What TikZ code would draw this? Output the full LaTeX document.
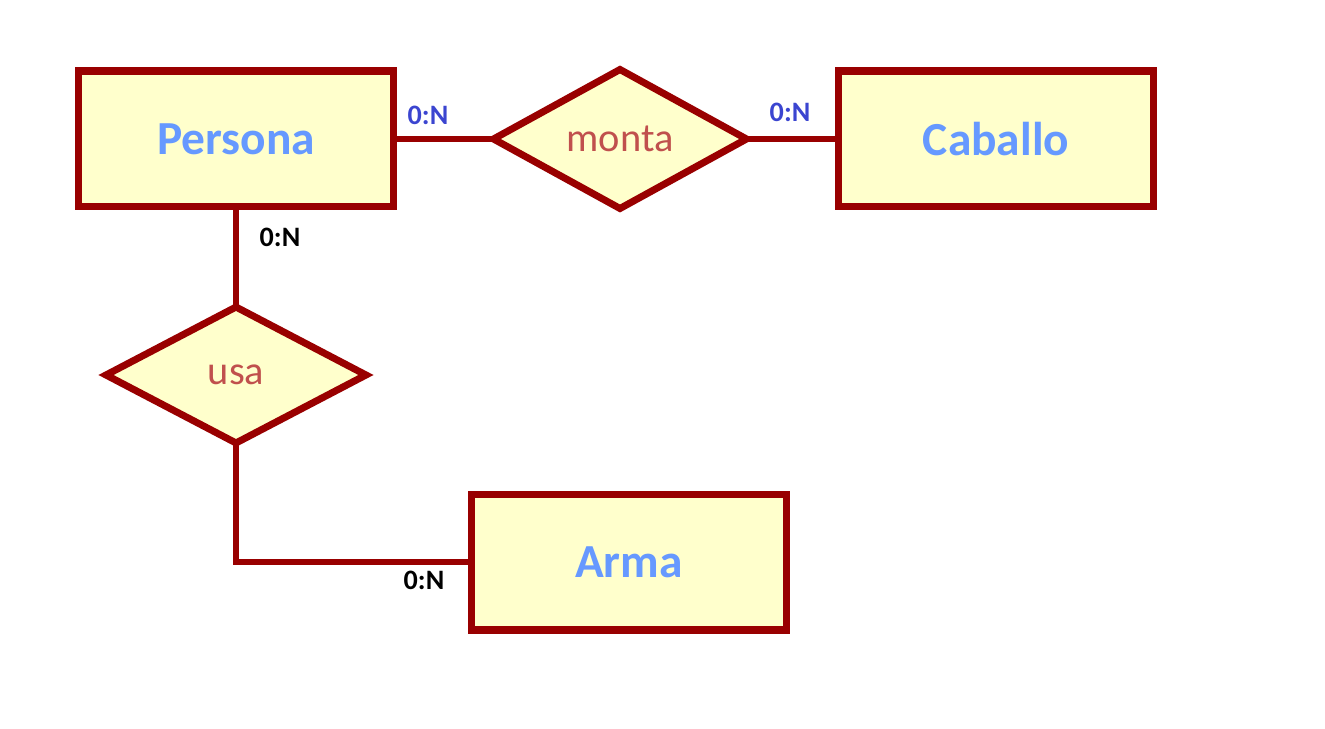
\documentclass[tikz,border=0pt]{standalone}
\usepackage{fontspec}
\setmainfont{Carlito}
\usepackage{xcolor}
\usetikzlibrary{shapes.geometric}

\definecolor{borde}{RGB}{153,0,0}
\definecolor{relleno}{RGB}{255,255,204}
\definecolor{entidad}{RGB}{102,153,255}
\definecolor{relacion}{RGB}{192,80,77}
\definecolor{card}{RGB}{59,69,208}

\begin{document}
\begin{tikzpicture}[x=0.02cm, y=-0.02cm,
    entity/.style={draw=borde, fill=relleno, line width=4pt, rectangle, outer sep=0pt,
        minimum width=6.3cm, minimum height=2.72cm,
        text=entidad, font=\fontsize{27}{30}\selectfont\bfseries},
    rel/.style={draw=borde, fill=relleno, line width=4pt, diamond, aspect=1.8,
        inner sep=0pt, outer sep=0pt, text=relacion, font=\fontsize{23}{26}\selectfont},
    link/.style={draw=borde, line width=3.8pt},
    cardA/.style={text=card, font=\fontsize{16}{18}\selectfont\bfseries},
    cardB/.style={text=black, font=\fontsize{16}{18}\selectfont\bfseries}]

    \useasboundingbox (0,0) rectangle (1325,729);

    % Entities
    \node[entity] (persona) at (236,139) {Persona};
    \node[entity] (caballo) at (996,139) {Caballo};
    \node[entity] (arma) at (629,562) {Arma};

    % Relationships
    \node[rel, minimum width=5.06cm, minimum height=2.78cm] (monta) at (620,139) {monta};
    \node[rel, minimum width=5.2cm, minimum height=2.72cm] (usa) at (236,375) {usa};

    % Links
    \draw[link] (persona.east) -- (monta.west);
    \draw[link] (monta.east) -- (caballo.west);
    \draw[link] (persona.south) -- (usa.north);
    \draw[link] (usa.south) |- (arma.west);

    % Cardinalities
    \node[cardA] (c1) at (428,115) {0:N};
    \node[cardA] (c2) at (790,112) {0:N};
    \node[cardB] (c3) at (280,237) {0:N};
    \node[cardB] (c4) at (424,580) {0:N};

\end{tikzpicture}
\end{document}
